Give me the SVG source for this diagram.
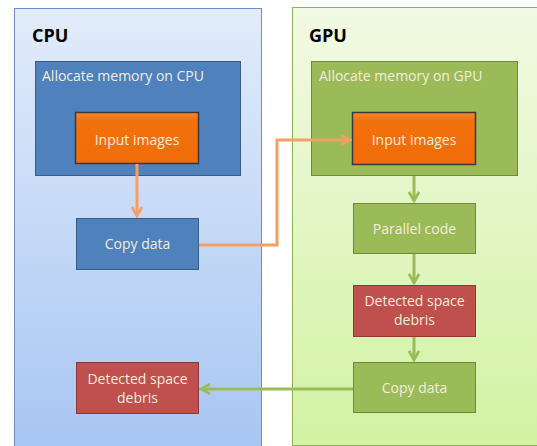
<svg xmlns="http://www.w3.org/2000/svg" width="537" height="446" viewBox="0 0 537 446">
  <defs>
    <linearGradient id="cpuBg" x1="0" y1="0" x2="0" y2="1">
      <stop offset="0" stop-color="#e2ecfa"/>
      <stop offset="1" stop-color="#a8c6f3"/>
    </linearGradient>
    <linearGradient id="gpuBg" x1="0" y1="0" x2="0" y2="1">
      <stop offset="0" stop-color="#f2fae4"/>
      <stop offset="1" stop-color="#d3f2a2"/>
    </linearGradient>
    <linearGradient id="orangeFill" x1="0" y1="0" x2="0" y2="1">
      <stop offset="0" stop-color="#f8882e"/>
      <stop offset="0.15" stop-color="#f2720e"/>
      <stop offset="1" stop-color="#f06c08"/>
    </linearGradient>
    <marker id="arrOrange" viewBox="0 0 12 12" refX="10" refY="6" markerWidth="12" markerHeight="12" markerUnits="userSpaceOnUse" orient="auto">
      <path d="M1,1 L10,6 L1,11" fill="none" stroke="#f3a066" stroke-width="2.6"/>
    </marker>
    <marker id="arrGreen" viewBox="0 0 12 12" refX="10" refY="6" markerWidth="12" markerHeight="12" markerUnits="userSpaceOnUse" orient="auto">
      <path d="M1,1 L10,6 L1,11" fill="none" stroke="#9bbb59" stroke-width="2.6"/>
    </marker>
  </defs>
  <style>
    .title { font-family: "Open Sans", "Liberation Sans", sans-serif; font-weight: bold; font-size: 18px; fill: #000; }
    .lbl { font-family: "Open Sans", "Liberation Sans", sans-serif; font-size: 14px; fill: #f4ecdc; }
    .mid { text-anchor: middle; }
    .blue { fill: #4f81bd; stroke: #385d8a; stroke-width: 1; }
    .green { fill: #9bbb59; stroke: #71893f; stroke-width: 1; }
    .red { fill: #c0504d; stroke: #8c3836; stroke-width: 1; }
    .orange { fill: url(#orangeFill); stroke: #3a3a3a; stroke-width: 1.5; }
    .conn-o { fill: none; stroke: #f3a066; stroke-width: 3; }
    .conn-g { fill: none; stroke: #9bbb59; stroke-width: 3; }
  </style>

  <rect width="537" height="446" fill="#ffffff"/>

  <!-- CPU side -->
  <g id="cpu-panel">
    <rect x="14.5" y="8.5" width="247" height="438" fill="url(#cpuBg)" stroke="#6f8fc4" stroke-width="1"/>
    <text class="title" x="32" y="42">CPU</text>
  </g>
  <g id="cpu-alloc">
    <rect class="blue" x="35.5" y="61.5" width="205" height="114"/>
    <text class="lbl" x="42" y="81">Allocate memory on CPU</text>
  </g>
  <g id="cpu-input">
    <rect class="orange" x="75.5" y="112.5" width="123" height="51"/>
    <text class="lbl mid" x="137" y="145">Input images</text>
  </g>
  <g id="cpu-copy">
    <rect class="blue" x="76.5" y="218.5" width="122" height="51"/>
    <text class="lbl mid" x="137.5" y="249">Copy data</text>
  </g>
  <g id="cpu-debris">
    <rect class="red" x="76.5" y="362.5" width="122" height="51"/>
    <text class="lbl mid" x="137.5" y="384">Detected space</text>
    <text class="lbl mid" x="137.5" y="403">debris</text>
  </g>

  <!-- GPU side -->
  <g id="gpu-panel">
    <rect x="292.5" y="7.5" width="250" height="438" fill="url(#gpuBg)" stroke="#8fb05a" stroke-width="1"/>
    <text class="title" x="309" y="42">GPU</text>
  </g>
  <g id="gpu-alloc">
    <rect class="green" x="311.5" y="61.5" width="206" height="114"/>
    <text class="lbl" x="319" y="81">Allocate memory on GPU</text>
  </g>
  <g id="gpu-input">
    <rect class="orange" x="352.5" y="112.5" width="123" height="52"/>
    <text class="lbl mid" x="414" y="145">Input images</text>
  </g>
  <g id="gpu-parallel">
    <rect class="green" x="353.5" y="203.5" width="122" height="50"/>
    <text class="lbl mid" x="414.5" y="234">Parallel code</text>
  </g>
  <g id="gpu-debris">
    <rect class="red" x="353.5" y="285.5" width="122" height="51"/>
    <text class="lbl mid" x="414.5" y="306">Detected space</text>
    <text class="lbl mid" x="414.5" y="325">debris</text>
  </g>
  <g id="gpu-copy">
    <rect class="green" x="353.5" y="362.5" width="122" height="50"/>
    <text class="lbl mid" x="414.5" y="393">Copy data</text>
  </g>

  <!-- Connectors -->
  <g id="connectors">
    <path class="conn-o" d="M137,164 L137,216" marker-end="url(#arrOrange)"/>
    <path class="conn-o" d="M199,245 L277,245 L277,140 L350,140" marker-end="url(#arrOrange)"/>
    <path class="conn-g" d="M414,176 L414,201" marker-end="url(#arrGreen)"/>
    <path class="conn-g" d="M414,254 L414,283" marker-end="url(#arrGreen)"/>
    <path class="conn-g" d="M414,337 L414,360" marker-end="url(#arrGreen)"/>
    <path class="conn-g" d="M353,389 L201,389" marker-end="url(#arrGreen)"/>
  </g>
</svg>
